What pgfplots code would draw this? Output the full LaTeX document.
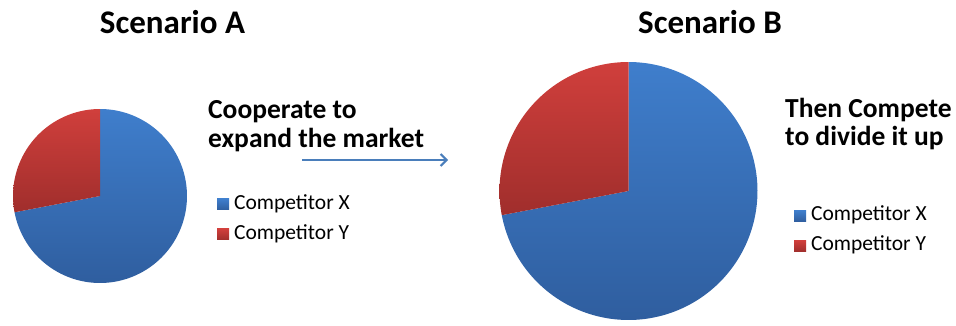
\documentclass[border=0pt]{standalone}
\usepackage{pgfplots}
\pgfplotsset{compat=1.18}
\usepackage{pgfplotstable}
\usepackage{fontspec}
\setmainfont{Carlito}
\usetikzlibrary{arrows.meta}

\definecolor{blueTop}{HTML}{3F7ECC}
\definecolor{blueBot}{HTML}{2F5E9F}
\definecolor{redTop}{HTML}{D03F3C}
\definecolor{redBot}{HTML}{A02E2C}
\definecolor{arrowBlue}{HTML}{4A7EBB}

% market shares (percent)
\pgfplotstableread{
competitor share
X 72
Y 28
}\scenarioA
\pgfplotstableread{
competitor share
X 72
Y 28
}\scenarioB

\pgfplotstablegetelem{1}{share}\of\scenarioA
\pgfmathsetmacro{\splitA}{90+3.6*\pgfplotsretval}
\pgfplotstablegetelem{1}{share}\of\scenarioB
\pgfmathsetmacro{\splitB}{90+3.6*\pgfplotsretval}

\newcommand{\legfont}{\fontsize{21.5}{25}\selectfont}

\pgfplotsset{
  pie/.style={
    hide axis, scale only axis, clip=false,
    xmin=-1, xmax=1, ymin=-1, ymax=1,
    anchor=center,
    legend cell align=left,
    legend style={draw=none, fill=none,
      nodes={inner sep=1pt, text height=14pt, text depth=4pt},
      anchor=west, row sep=10pt, column sep=0pt, inner sep=0pt},
    legend image code/.code={\fill[##1] (0pt,-5.5pt) rectangle (12pt,5.5pt);
      \path (0pt,0pt) -- (16pt,0pt);},
  },
}

\begin{document}
\begin{tikzpicture}[x=1pt,y=1pt]
\useasboundingbox (0,0) rectangle (956,325);

% Scenario A pie
\begin{axis}[pie, width=174pt, height=174pt, at={(100pt,129pt)},
  legend style={at={(1.172,0.365)}}]
\addplot[draw=none, top color=blueTop, bottom color=blueBot, domain=\splitA:450, samples=120, variable=\t]
  ({cos(t)},{sin(t)}) -- (axis cs:0,0) -- cycle;
\addlegendentry{\legfont Competitor X}
\addplot[draw=none, top color=redTop, bottom color=redBot, domain=90:\splitA, samples=60, variable=\t]
  ({cos(t)},{sin(t)}) -- (axis cs:0,0) -- cycle;
\addlegendentry{\legfont Competitor Y}
\end{axis}

% Scenario B pie
\begin{axis}[pie, width=258pt, height=258pt, at={(628.5pt,134pt)},
  legend style={at={(1.141,0.345)}}]
\addplot[draw=none, top color=blueTop, bottom color=blueBot, domain=\splitB:450, samples=160, variable=\t]
  ({cos(t)},{sin(t)}) -- (axis cs:0,0) -- cycle;
\addlegendentry{\legfont Competitor X}
\addplot[draw=none, top color=redTop, bottom color=redBot, domain=90:\splitB, samples=80, variable=\t]
  ({cos(t)},{sin(t)}) -- (axis cs:0,0) -- cycle;
\addlegendentry{\legfont Competitor Y}
\end{axis}

% Titles
\node[anchor=base, inner sep=0pt, font=\fontsize{33}{38}\selectfont\bfseries] at (172.5,292) {Scenario A};
\node[anchor=base, inner sep=0pt, font=\fontsize{33}{38}\selectfont\bfseries] at (710,292) {Scenario B};

% Annotations
\node[anchor=base west, inner sep=0pt, font=\fontsize{27.5}{32}\selectfont\bfseries] at (208,207) {Cooperate to};
\node[anchor=base west, inner sep=0pt, font=\fontsize{27.5}{32}\selectfont\bfseries] at (208,178) {expand the market};
\node[anchor=base west, inner sep=0pt, font=\fontsize{27.5}{32}\selectfont\bfseries] at (785,208) {Then Compete};
\node[anchor=base west, inner sep=0pt, font=\fontsize{27.5}{32}\selectfont\bfseries] at (785,180) {to divide it up};

% Arrow
\draw[arrowBlue, line width=2pt, -{Straight Barb[length=6pt,width=12pt]}] (302,165) -- (448,165);
\end{tikzpicture}
\end{document}
